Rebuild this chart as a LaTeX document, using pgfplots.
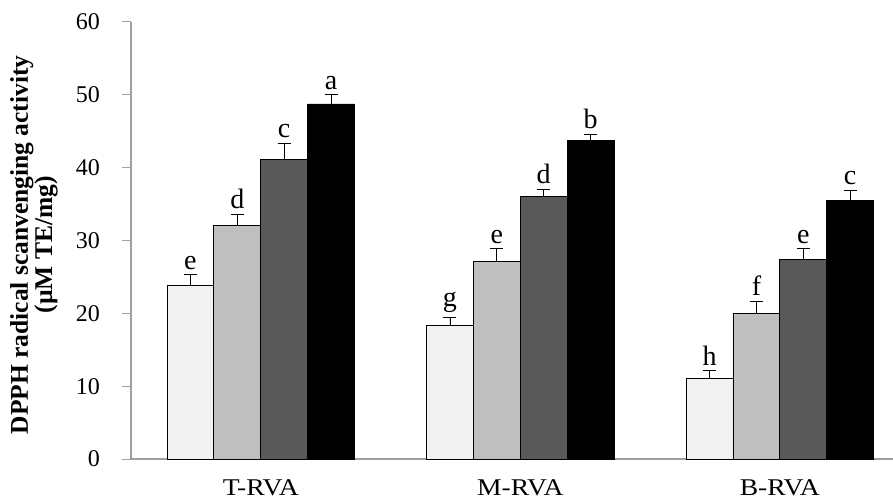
\documentclass[border=0pt]{standalone}
\usepackage{pgfplots}
\pgfplotsset{compat=1.18}
\usepackage{pgfplotstable}
\usepackage{fontspec}
\setmainfont{Liberation Serif}
\definecolor{c1}{RGB}{242,242,242}
\definecolor{c2}{RGB}{191,191,191}
\definecolor{c3}{RGB}{89,89,89}
\definecolor{c4}{RGB}{0,0,0}
\definecolor{axgray}{RGB}{160,160,160}

\pgfplotstableread{
x y err lab
1 23.8 1.5 e
2 18.4 1.0 g
3 11.1 1.05 h
}\sA
\pgfplotstableread{
x y err lab
1 32.1 1.5 d
2 27.15 1.75 e
3 20.0 1.7 f
}\sB
\pgfplotstableread{
x y err lab
1 41.15 2.2 c
2 36.05 1.0 d
3 27.35 1.5 e
}\sC
\pgfplotstableread{
x y err lab
1 48.75 1.25 a
2 43.7 0.9 b
3 35.45 1.45 c
}\sD

\pgfplotsset{
  mybar/.style={draw=black, line width=0.8pt, bar width=0.1807,
    error bars/y dir=plus, error bars/y explicit,
    error bars/error mark=|,
    error bars/error bar style={black, line width=0.8pt},
    error bars/error mark options={draw=black, mark size=6.5pt, line width=0.8pt}},
  mylab/.style={draw=none, fill=none, bar width=0.1807, forget plot,
    nodes near coords, point meta=explicit symbolic,
    visualization depends on={\thisrow{err} \as \err},
    nodes near coords style={anchor=south, inner sep=0pt, text=black,
      yshift={\err*7.2833pt+5pt}, font=\fontsize{28}{32}\selectfont}},
}

\begin{document}
\begin{tikzpicture}
\path[use as bounding box] (-131pt,-42pt) rectangle (762pt,459pt);
\begin{axis}[
  at={(0,0)}, anchor=south west,
  scale only axis, width=762pt, height=437pt,
  xmin=0.5, xmax=3.436, ymin=0, ymax=60,
  ybar,
  axis x line*=bottom, axis y line*=left,
  axis line style={axgray, line width=1.2pt, -},
  every outer x axis line/.append style={-},
  every outer y axis line/.append style={-},
  xtick={1,2,3},
  xticklabels={\scalebox{1.15}[1]{T-RVA},\scalebox{1.15}[1]{M-RVA},\scalebox{1.15}[1]{B-RVA}},
  xtick style={draw=none},
  ytick={0,10,...,60}, ytick pos=left, xtick pos=bottom,
  ytick style={axgray, line width=1pt},
  tick align=outside, major tick length=9pt,
  /pgf/number format/assume math mode=true,
  yticklabel style={font=\fontsize{24}{28}\selectfont, inner sep=0pt, anchor=east, xshift=-22pt},
  xticklabel style={font=\fontsize{24}{28}\selectfont, inner sep=0pt, anchor=north, yshift=-11pt},
  ylabel={DPPH radical scanvenging activity\\(µM TE/mg)},
  ylabel style={at={(axis description cs:-0.1273,0.49)}, anchor=center, align=center,
    font=\fontsize{25.5}{23}\selectfont\bfseries},
  clip=false,
]
\addplot[mybar, fill=c1, bar shift=-0.271] table[x=x, y=y, y error=err] {\sA};
\addplot[mybar, fill=c2, bar shift=-0.0903] table[x=x, y=y, y error=err] {\sB};
\addplot[mybar, fill=c3, bar shift=0.0903] table[x=x, y=y, y error=err] {\sC};
\addplot[mybar, fill=c4, bar shift=0.271] table[x=x, y=y, y error=err] {\sD};
\addplot[mylab, bar shift=-0.271] table[x=x, y=y, meta=lab] {\sA};
\addplot[mylab, bar shift=-0.0903] table[x=x, y=y, meta=lab] {\sB};
\addplot[mylab, bar shift=0.0903] table[x=x, y=y, meta=lab] {\sC};
\addplot[mylab, bar shift=0.271] table[x=x, y=y, meta=lab] {\sD};
\end{axis}
\end{tikzpicture}
\end{document}
